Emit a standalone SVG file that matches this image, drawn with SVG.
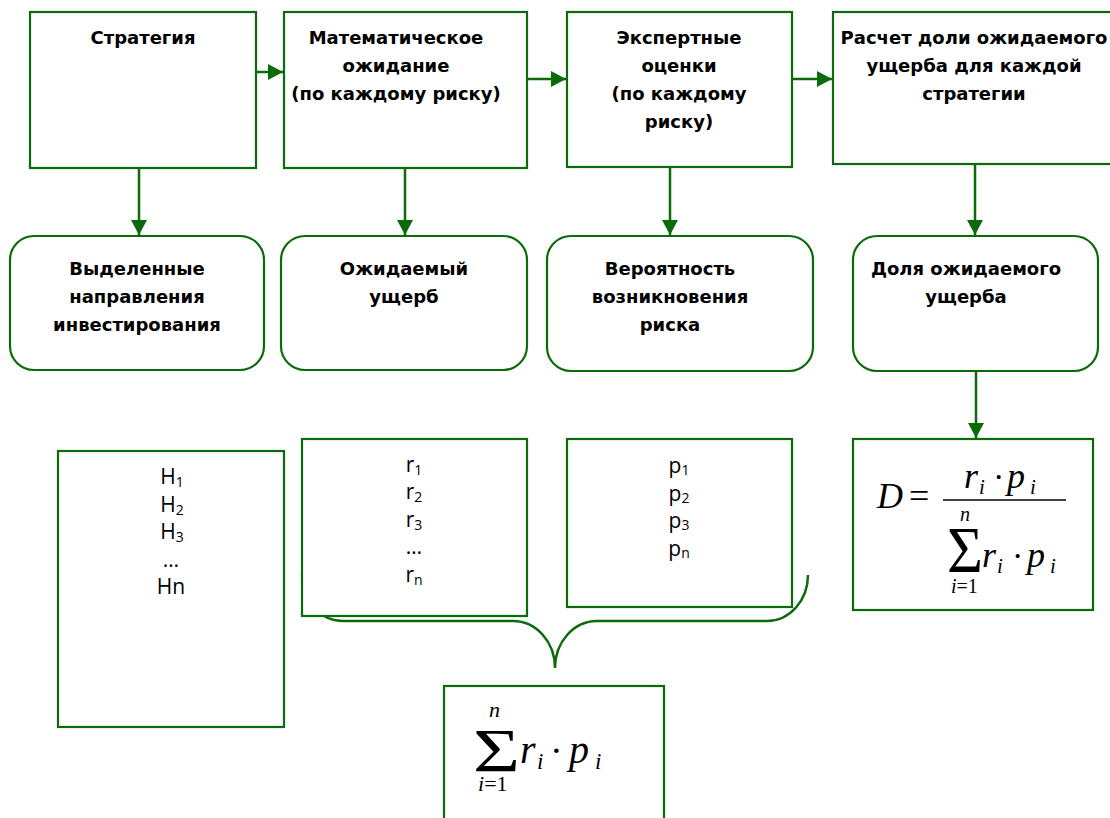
<svg xmlns="http://www.w3.org/2000/svg" width="1110" height="818" viewBox="0 0 1110 818">
<style>
.box{fill:#fff;stroke:#0b6b0b;stroke-width:2.2}
.con{fill:none;stroke:#0b6b0b;stroke-width:2.5}
.t{font-family:"DejaVu Sans",Verdana,sans-serif;font-weight:bold;font-size:18px;fill:#000;text-anchor:middle}
.r{font-family:"Open Sans","Noto Sans",sans-serif;font-size:21px;fill:#000;text-anchor:middle}
.m{font-family:"Liberation Serif","Times New Roman",serif;font-style:italic;fill:#000}
.u{font-family:"Liberation Serif","Times New Roman",serif;font-style:normal;fill:#000}
</style>
<defs>
<marker id="ah" markerUnits="userSpaceOnUse" markerWidth="16" markerHeight="16" refX="15" refY="8" orient="auto">
<path d="M0,0 L15,8 L0,16 z" fill="#0b6b0b"/>
</marker>
</defs>
<g id="connectors">
<line class="con" x1="256" y1="72" x2="283" y2="72" marker-end="url(#ah)"/>
<line class="con" x1="527" y1="79" x2="566" y2="79" marker-end="url(#ah)"/>
<line class="con" x1="792" y1="79" x2="832" y2="79" marker-end="url(#ah)"/>
<line class="con" x1="139" y1="168" x2="139" y2="235" marker-end="url(#ah)"/>
<line class="con" x1="405" y1="168" x2="405" y2="235" marker-end="url(#ah)"/>
<line class="con" x1="670" y1="167" x2="670" y2="235" marker-end="url(#ah)"/>
<line class="con" x1="975" y1="164" x2="975" y2="235" marker-end="url(#ah)"/>
<line class="con" x1="976" y1="371" x2="976" y2="438" marker-end="url(#ah)"/>
<path class="con" d="M302,575 A41,46 0 0 0 343,621 L513,621 A42,47 0 0 1 555,668 A42,47 0 0 1 597,621 L767,621 A41,46 0 0 0 808,575"/>
</g>
<g id="n-strategy">
<rect class="box" x="30" y="12" width="226" height="156"/>
<text class="t" x="143" y="44">Стратегия</text>
</g>
<g id="n-mathexp">
<rect class="box" x="284" y="12" width="243" height="156"/>
<text class="t" x="396" y="44">Математическое</text>
<text class="t" x="396" y="72">ожидание</text>
<text class="t" x="396" y="100">(по каждому риску)</text>
</g>
<g id="n-expert">
<rect class="box" x="567" y="12" width="225" height="155"/>
<text class="t" x="679" y="44">Экспертные</text>
<text class="t" x="679" y="72">оценки</text>
<text class="t" x="679" y="100">(по каждому</text>
<text class="t" x="679" y="128">риску)</text>
</g>
<g id="n-calc">
<rect class="box" x="833" y="12" width="290" height="152"/>
<text class="t" x="974" y="44">Расчет доли ожидаемого</text>
<text class="t" x="974" y="72">ущерба для каждой</text>
<text class="t" x="974" y="100">стратегии</text>
</g>
<g id="n-directions">
<rect class="box" x="10" y="236" width="254" height="134" rx="24" ry="24"/>
<text class="t" x="137" y="275">Выделенные</text>
<text class="t" x="137" y="303">направления</text>
<text class="t" x="137" y="331">инвестирования</text>
</g>
<g id="n-damage">
<rect class="box" x="281" y="236" width="246" height="134" rx="24" ry="24"/>
<text class="t" x="404" y="275">Ожидаемый</text>
<text class="t" x="404" y="303">ущерб</text>
</g>
<g id="n-prob">
<rect class="box" x="547" y="236" width="266" height="135" rx="24" ry="24"/>
<text class="t" x="670" y="275">Вероятность</text>
<text class="t" x="670" y="303">возникновения</text>
<text class="t" x="670" y="331">риска</text>
</g>
<g id="n-share">
<rect class="box" x="853" y="236" width="245" height="135" rx="24" ry="24"/>
<text class="t" x="966" y="275">Доля ожидаемого</text>
<text class="t" x="966" y="303">ущерба</text>
</g>
<g id="n-H">
<rect class="box" x="58" y="451" width="226" height="276"/>
<text class="r" x="172" y="484">H<tspan font-size="14" dy="3">1</tspan></text>
<text class="r" x="172" y="512">H<tspan font-size="14" dy="3">2</tspan></text>
<text class="r" x="172" y="539">H<tspan font-size="14" dy="3">3</tspan></text>
<text class="r" x="171" y="567" font-size="10">…</text>
<text class="r" x="171" y="594" font-size="23">Hn</text>
</g>
<g id="n-r">
<rect class="box" x="302" y="439" width="225" height="177"/>
<text class="r" x="414" y="472">r<tspan font-size="14" dy="3">1</tspan></text>
<text class="r" x="414" y="499">r<tspan font-size="14" dy="3">2</tspan></text>
<text class="r" x="414" y="527">r<tspan font-size="14" dy="3">3</tspan></text>
<text class="r" x="414" y="554">…</text>
<text class="r" x="414" y="582">r<tspan font-size="14" dy="3">n</tspan></text>
</g>
<g id="n-p">
<rect class="box" x="567" y="439" width="225" height="168"/>
<text class="r" x="679" y="473">p<tspan font-size="14" dy="2">1</tspan></text>
<text class="r" x="679" y="501">p<tspan font-size="14" dy="2">2</tspan></text>
<text class="r" x="679" y="528">p<tspan font-size="14" dy="2">3</tspan></text>
<text class="r" x="679" y="556">p<tspan font-size="14" dy="2">n</tspan></text>
</g>
<g id="n-D">
<rect class="box" x="853" y="439" width="240" height="171"/>
<text class="m" x="877" y="508" font-size="36">D<tspan class="u" x="909">=</tspan></text>
<line x1="943" y1="500" x2="1066" y2="500" stroke="#000" stroke-width="1.3"/>
<text class="m" x="964" y="488" font-size="36">r<tspan x="979" dy="6" font-size="21">i</tspan><tspan class="u" x="993" dy="-6" font-size="34">·</tspan><tspan x="1007">p</tspan><tspan x="1030" dy="6" font-size="21">i</tspan></text>
<text class="u" x="947" y="572" font-size="66" textLength="36" lengthAdjust="spacingAndGlyphs">Σ</text>
<text class="m" x="960" y="521" font-size="20">n</text>
<text class="m" x="951" y="593" font-size="20">i<tspan class="u">=1</tspan></text>
<text class="m" x="982" y="567" font-size="36">r<tspan x="997" dy="6" font-size="21">i</tspan><tspan class="u" x="1012" dy="-6" font-size="34">·</tspan><tspan x="1027">p</tspan><tspan x="1050" dy="6" font-size="21">i</tspan></text>
</g>
<g id="n-sum">
<rect class="box" x="444" y="686" width="220" height="150"/>
<text class="u" x="473" y="771" font-size="62" textLength="47" lengthAdjust="spacingAndGlyphs">Σ</text>
<text class="m" x="489" y="717" font-size="22">n</text>
<text class="m" x="478" y="791" font-size="22">i<tspan class="u">=1</tspan></text>
<text class="m" x="520" y="763" font-size="40">r<tspan x="537" dy="6" font-size="23">i</tspan><tspan class="u" x="550" dy="-6" font-size="38">·</tspan><tspan x="569">p</tspan><tspan x="595" dy="6" font-size="23">i</tspan></text>
</g>
</svg>
